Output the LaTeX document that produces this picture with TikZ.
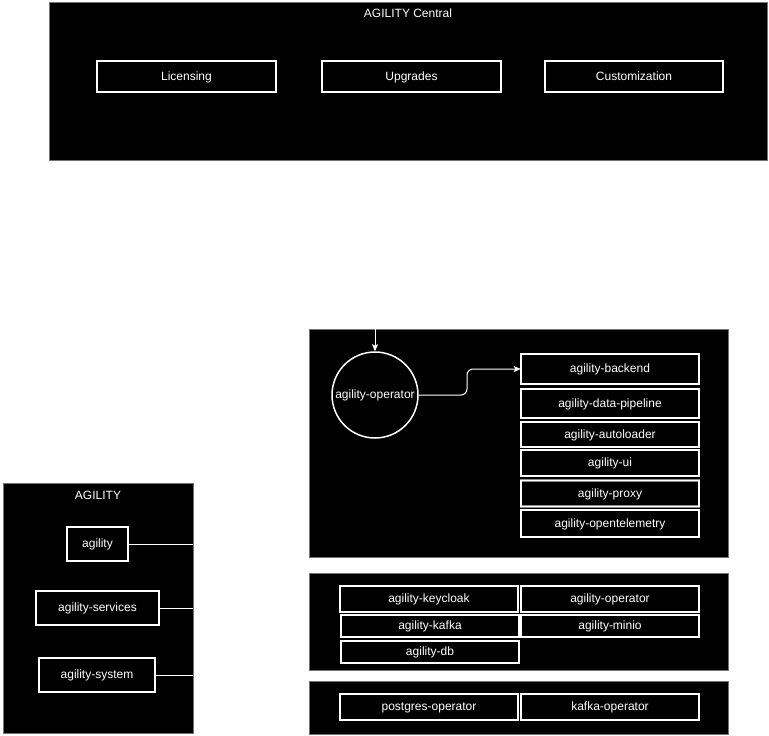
\documentclass[tikz,border=0pt]{standalone}
\usepackage{fontspec}
\setmainfont{Liberation Sans}
\usetikzlibrary{arrows.meta}
\begin{document}
\begin{tikzpicture}[x=1pt,y=-1pt,
  font=\fontsize{12}{14}\selectfont,
  every node/.style={text height=9.5pt,text depth=2.5pt},
  container/.style={fill=black,draw=black!55,line width=1pt},
  ibox/.style={draw=black!45,double=white,double distance=1.3pt,line width=0.5pt,fill=black,text=white,inner sep=0pt,anchor=center},
  ttl/.style={text=white,inner sep=0pt},
  conn/.style={draw=white,line width=1pt},
  arr/.style={conn,-{Stealth[length=7pt,width=6pt,inset=1.5pt]}}]
\fill[white] (0,0) rectangle (769,736);
\useasboundingbox (0,0) rectangle (769,736);
% containers
\draw[container] (49,2) rectangle (767,160.5);
\draw[container] (309,329) rectangle (728,557);
\draw[container] (3,483) rectangle (193,733);
\draw[container] (309,573) rectangle (728,670);
\draw[container] (309,681) rectangle (728,734);
% titles
\node[ttl] (central) at (408,14) {AGILITY Central};
\node[ttl] (agtitle) at (98,496) {AGILITY};
% top boxes
\node[ibox,minimum width=179pt,minimum height=31pt] (lic) at (186.5,76.5) {Licensing};
\node[ibox,minimum width=179pt,minimum height=31pt] (upg) at (411.5,76.5) {Upgrades};
\node[ibox,minimum width=178pt,minimum height=31pt] (cus) at (634,76.5) {Customization};
% operator circle
\node[circle,draw=white,line width=1.5pt,fill=black,text=white,minimum size=86pt,inner sep=0pt] (op) at (375,395) {agility-operator};
% right stack
\node[ibox,minimum width=178pt,minimum height=30pt] (backend) at (610,369) {agility-backend};
\node[ibox,minimum width=178pt,minimum height=29pt] (pipe) at (610,403.5) {agility-data-pipeline};
\node[ibox,minimum width=178pt,minimum height=25pt] (auto) at (610,434.5) {agility-autoloader};
\node[ibox,minimum width=178pt,minimum height=26pt] (ui) at (610,463) {agility-ui};
\node[ibox,minimum width=178pt,minimum height=26pt] (proxy) at (610,493.5) {agility-proxy};
\node[ibox,minimum width=178pt,minimum height=27pt] (otel) at (610,523.5) {agility-opentelemetry};
% connectors for operator
\coordinate (optop) at (375,329);
\draw[arr] (optop) -- (op.north);
\draw[arr,rounded corners=6pt] (op.east) -- (467,395) -- (467,369) -- (backend.west);
% AGILITY boxes
\node[ibox,minimum width=61pt,minimum height=34pt] (ag) at (97.5,544) {agility};
\node[ibox,minimum width=123pt,minimum height=34pt] (agsvc) at (97.5,608) {agility-services};
\node[ibox,minimum width=116pt,minimum height=34pt] (agsys) at (97,675) {agility-system};
\coordinate (e1) at (193,544);
\coordinate (e2) at (193,608);
\coordinate (e3) at (193,675);
\draw[conn] (ag.east) -- (e1);
\draw[conn] (agsvc.east) -- (e2);
\draw[conn] (agsys.east) -- (e3);
% services container
\node[ibox,minimum width=178pt,minimum height=26pt] (kc) at (429,599) {agility-keycloak};
\node[ibox,minimum width=178pt,minimum height=26pt] (op2) at (610,599) {agility-operator};
\node[ibox,minimum width=178pt,minimum height=22pt] (kafka) at (430,626) {agility-kafka};
\node[ibox,minimum width=178pt,minimum height=22pt] (minio) at (610,626) {agility-minio};
\node[ibox,minimum width=178pt,minimum height=22pt] (db) at (430,652) {agility-db};
% system container
\node[ibox,minimum width=178pt,minimum height=26pt] (pgop) at (429,707) {postgres-operator};
\node[ibox,minimum width=178pt,minimum height=26pt] (kop) at (610,707) {kafka-operator};
\end{tikzpicture}
\end{document}
